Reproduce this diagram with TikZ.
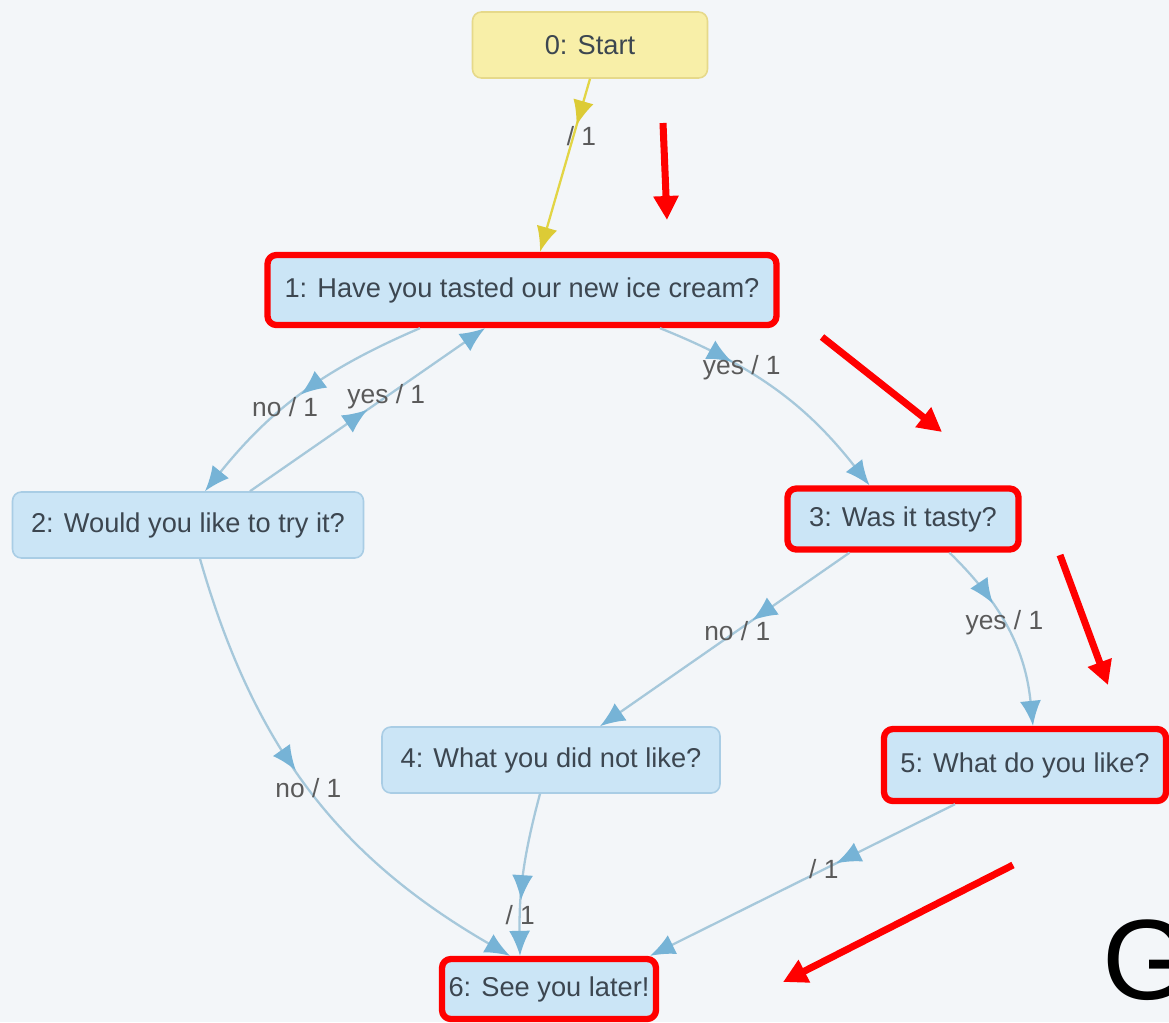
\documentclass[tikz,border=0pt]{standalone}
\usepackage{fontspec}
\setmainfont{Liberation Sans}
\usetikzlibrary{arrows.meta,decorations.markings}
\definecolor{bgcol}{HTML}{F3F6F9}
\definecolor{boxfill}{HTML}{CBE5F6}
\definecolor{boxline}{HTML}{A9CDE5}
\definecolor{txtcol}{HTML}{3C4650}
\definecolor{startfill}{HTML}{F8EFA8}
\definecolor{startline}{HTML}{E6D98A}
\definecolor{edgeline}{HTML}{A6C8DB}
\definecolor{edgetip}{HTML}{76B3D6}
\definecolor{startedge}{HTML}{E2D545}
\definecolor{starttip}{HTML}{DCCB36}
\definecolor{lblcol}{HTML}{5A5A5A}
\tikzset{
  state/.style={draw=boxline, fill=boxfill, rounded corners=5pt, line width=0.9pt,
    text=txtcol, font=\fontsize{15.5}{18}\selectfont, inner sep=0pt},
  startstate/.style={state, draw=startline, fill=startfill},
  picked/.style={draw=red, line width=3.6pt},
  trans/.style={draw=edgeline, line width=1.3pt, -{Latex[length=0.5cm,width=0.42cm,color=edgetip]}},
  mid/.style 2 args={postaction={decorate, decoration={markings,
    mark=at position #1 with {\arrow{Latex[length=0.5cm,width=0.42cm,color=#2]}}}}},
  lbl/.style={text=lblcol, font=\fontsize{15}{18}\selectfont, inner sep=1pt},
  hint/.style={draw=red, line width=4pt, line cap=butt, -{Triangle[length=0.48cm,width=0.48cm]}}
}
\begin{document}
\begin{tikzpicture}[x=0.02cm, y=-0.02cm, line join=round]
    \fill[bgcol] (0,0) rectangle (1169,1022);
    \useasboundingbox (0,0) rectangle (1169,1022);
    \clip (0,0) rectangle (1169,1022);
    % states
    \node[startstate, minimum width=4.7cm, minimum height=1.32cm] (n0) at (590,45) {0: Start};
    \node[state, picked, minimum width=10.18cm, minimum height=1.4cm] (n1) at (522,290) {1: Have you tasted our new ice cream?};
    \node[state, minimum width=7.02cm, minimum height=1.32cm] (n2) at (188,525) {2: Would you like to try it?};
    \node[state, picked, minimum width=4.62cm, minimum height=1.22cm] (n3) at (903,519) {3: Was it tasty?};
    \node[state, minimum width=6.76cm, minimum height=1.32cm] (n4) at (551,760) {4: What you did not like?};
    \node[state, picked, minimum width=5.64cm, minimum height=1.44cm] (n5) at (1025,765) {5: What do you like?};
    \node[state, picked, minimum width=4.28cm, minimum height=1.2cm] (n6) at (549,989) {6: See you later!};
    % transitions
    \draw[trans, draw=startedge, -{Latex[length=0.5cm,width=0.42cm,color=starttip]}, mid={0.27}{starttip}]
        (n0.south) -- node[lbl, pos=0.33, xshift=0.16cm] (l01) {/ 1} ([xshift=0.36cm]n1.north);
    \draw[trans, mid={0.5}{edgetip}] ([xshift=-2.04cm]n1.south) to[bend right=14] node[lbl, pos=0.58] (l12) {no / 1} ([xshift=0.34cm]n2.north);
    \draw[trans, mid={0.5}{edgetip}] ([xshift=1.24cm]n2.north) -- node[lbl, pos=0.58] (l21) {yes / 1} ([xshift=-0.74cm]n1.south);
    \draw[trans, mid={0.3}{edgetip}] ([xshift=2.76cm]n1.south) to[bend left=15] node[lbl, pos=0.33] (l13) {yes / 1} ([xshift=-0.67cm]n3.north);
    \draw[trans, mid={0.39}{edgetip}] ([xshift=-1.07cm]n3.south) -- node[lbl, pos=0.45] (l34) {no / 1} ([xshift=0.98cm]n4.north);
    \draw[trans, mid={0.34}{edgetip}] ([xshift=0.93cm]n3.south) to[bend left=20] node[lbl, pos=0.45] (l35) {yes / 1} ([xshift=0.16cm]n5.north);
    \draw[trans, mid={0.45}{edgetip}] ([xshift=0.24cm]n2.south) to[bend right=22] node[lbl, pos=0.49] (l26) {no / 1} ([xshift=-0.78cm]n6.north);
    \draw[trans, mid={0.66}{edgetip}] ([xshift=-0.22cm]n4.south) to[bend right=8] node[lbl, pos=0.77] (l46) {/ 1} ([xshift=-0.58cm]n6.north);
    \draw[trans, mid={0.39}{edgetip}] ([xshift=-1.4cm]n5.south) -- node[lbl, pos=0.43] (l56) {/ 1} ([xshift=2.02cm]n6.north);
    % red hints
    \coordinate (h1a) at (663,123); \coordinate (h1b) at (667,220);
    \coordinate (h2a) at (822,337); \coordinate (h2b) at (942,432);
    \coordinate (h3a) at (1060,555); \coordinate (h3b) at (1108,685);
    \coordinate (h4a) at (1013,865); \coordinate (h4b) at (783,982);
    \draw[hint] (h1a) -- (h1b);
    \draw[hint] (h2a) -- (h2b);
    \draw[hint] (h3a) -- (h3b);
    \draw[hint] (h4a) -- (h4b);
    \node[anchor=base west, inner sep=0pt, font=\fontsize{65}{70}\selectfont] (g) at (1102,999) {G};
\end{tikzpicture}
\end{document}
